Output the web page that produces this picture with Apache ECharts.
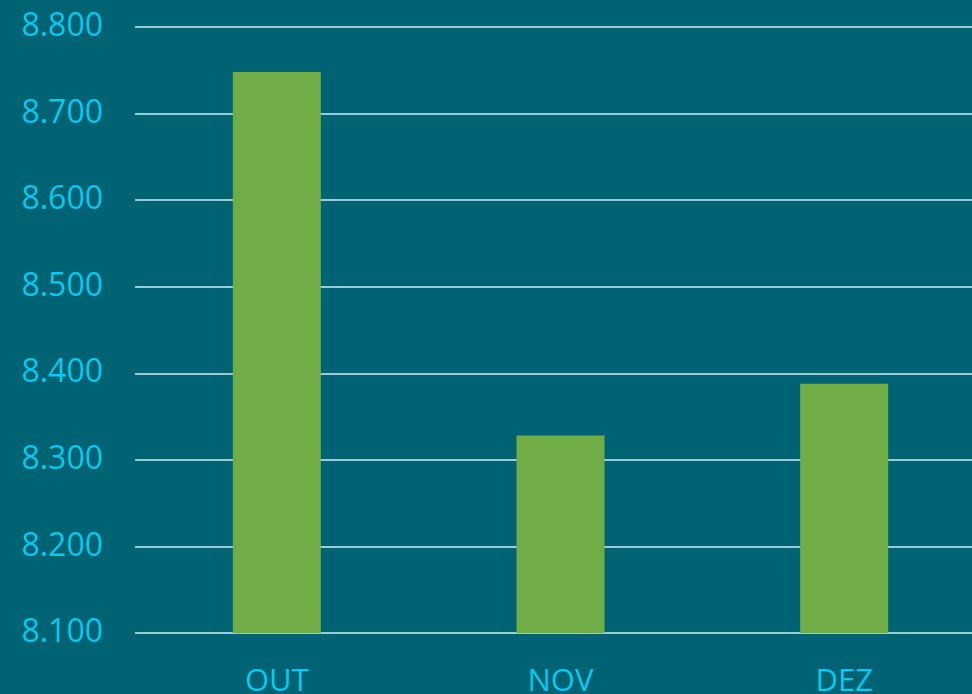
<!DOCTYPE html>
<html>
<head>
<meta charset="utf-8">
<script src="https://cdn.jsdelivr.net/npm/echarts@6/dist/echarts.min.js"></script>
<style>
  html, body { margin: 0; padding: 0; background: #006373; }
  #main { width: 972px; height: 694px; }
</style>
</head>
<body>
<div id="main"></div>
<script>
const months = ['OUT', 'NOV', 'DEZ'];
const totals = [8748, 8328, 8388];
const yMin = 8100;
const yMax = 8800;

const labelColor = '#00CCF5';
const chart = echarts.init(document.getElementById('main'));

chart.setOption({
  backgroundColor: '#006373',
  animation: false,
  // plot area runs past the right edge of the canvas
  grid: { left: 135, right: -14, top: 27, bottom: 61, outerBoundsMode: 'none' },
  xAxis: {
    type: 'category',
    data: months,
    axisLine: { show: false },
    axisTick: { show: false },
    axisLabel: {
      color: labelColor,
      fontFamily: 'Open Sans',
      fontSize: 31,
      margin: 34
    }
  },
  yAxis: {
    type: 'value',
    min: yMin,
    max: yMax,
    interval: 100,
    axisLine: { show: false },
    axisTick: { show: false },
    splitLine: { lineStyle: { color: '#C8F0F8', width: 1.5 } },
    axisLabel: {
      color: labelColor,
      fontFamily: 'Open Sans',
      fontSize: 32,
      margin: 32,
      formatter: v => v.toLocaleString('de-DE', { minimumFractionDigits: 0 })
    }
  },
  series: [{
    type: 'bar',
    data: totals,
    barWidth: 88,
    itemStyle: { color: '#70AD47' }
  }]
});
</script>
</body>
</html>
